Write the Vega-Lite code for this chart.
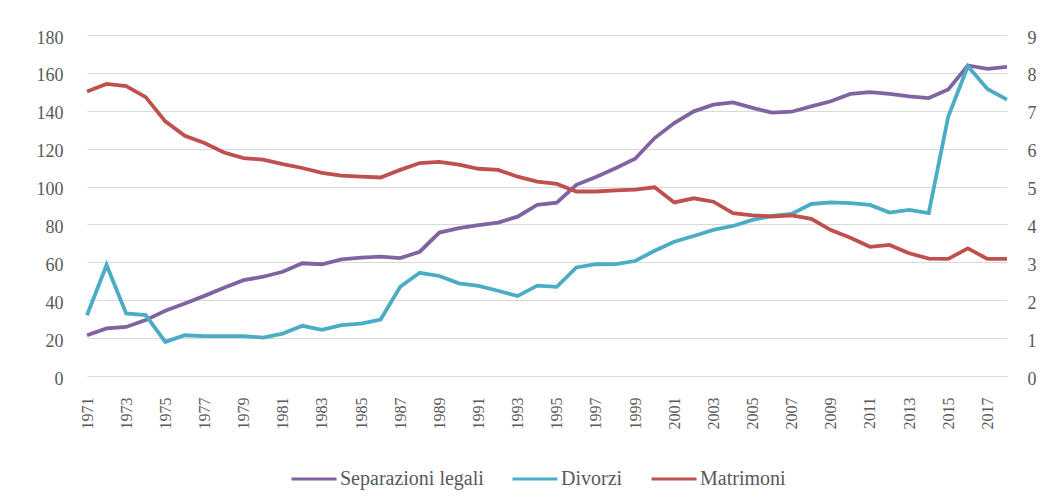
{
  "$schema": "https://vega.github.io/schema/vega-lite/v6.json",
  "width": 920,
  "height": 341,
  "autosize": {"type": "none"},
  "padding": {"left": 87, "top": 35, "right": 44, "bottom": 124},
  "background": "white",
  "config": {
    "view": {"stroke": null},
    "font": "Liberation Serif",
    "axis": {"labelFont": "Liberation Serif", "labelColor": "#595959", "domain": false, "ticks": false, "title": null, "labelFlush": false, "labelOverlap": false}
  },
  "data": {"values": [
    {"anno":1971,"serie":"Separazioni legali","valore":21.5},{"anno":1972,"serie":"Separazioni legali","valore":25.1},{"anno":1973,"serie":"Separazioni legali","valore":25.9},{"anno":1974,"serie":"Separazioni legali","valore":29.5},{"anno":1975,"serie":"Separazioni legali","valore":34.4},{"anno":1976,"serie":"Separazioni legali","valore":38.3},{"anno":1977,"serie":"Separazioni legali","valore":42.3},{"anno":1978,"serie":"Separazioni legali","valore":46.6},{"anno":1979,"serie":"Separazioni legali","valore":50.6},{"anno":1980,"serie":"Separazioni legali","valore":52.4},{"anno":1981,"serie":"Separazioni legali","valore":55.0},{"anno":1982,"serie":"Separazioni legali","valore":59.5},{"anno":1983,"serie":"Separazioni legali","valore":59.0},{"anno":1984,"serie":"Separazioni legali","valore":61.6},{"anno":1985,"serie":"Separazioni legali","valore":62.5},{"anno":1986,"serie":"Separazioni legali","valore":63.0},{"anno":1987,"serie":"Separazioni legali","valore":62.2},{"anno":1988,"serie":"Separazioni legali","valore":65.6},{"anno":1989,"serie":"Separazioni legali","valore":75.7},{"anno":1990,"serie":"Separazioni legali","valore":78.0},{"anno":1991,"serie":"Separazioni legali","valore":79.7},{"anno":1992,"serie":"Separazioni legali","valore":81.0},{"anno":1993,"serie":"Separazioni legali","valore":84.1},{"anno":1994,"serie":"Separazioni legali","valore":90.3},{"anno":1995,"serie":"Separazioni legali","valore":91.5},{"anno":1996,"serie":"Separazioni legali","valore":100.9},{"anno":1997,"serie":"Separazioni legali","valore":105.0},{"anno":1998,"serie":"Separazioni legali","valore":109.7},{"anno":1999,"serie":"Separazioni legali","valore":114.7},{"anno":2000,"serie":"Separazioni legali","valore":125.6},{"anno":2001,"serie":"Separazioni legali","valore":133.5},{"anno":2002,"serie":"Separazioni legali","valore":139.7},{"anno":2003,"serie":"Separazioni legali","valore":143.2},{"anno":2004,"serie":"Separazioni legali","valore":144.4},{"anno":2005,"serie":"Separazioni legali","valore":141.5},{"anno":2006,"serie":"Separazioni legali","valore":139.0},{"anno":2007,"serie":"Separazioni legali","valore":139.5},{"anno":2008,"serie":"Separazioni legali","valore":142.3},{"anno":2009,"serie":"Separazioni legali","valore":145.0},{"anno":2010,"serie":"Separazioni legali","valore":148.9},{"anno":2011,"serie":"Separazioni legali","valore":149.8},{"anno":2012,"serie":"Separazioni legali","valore":148.9},{"anno":2013,"serie":"Separazioni legali","valore":147.6},{"anno":2014,"serie":"Separazioni legali","valore":146.7},{"anno":2015,"serie":"Separazioni legali","valore":151.2},{"anno":2016,"serie":"Separazioni legali","valore":163.9},{"anno":2017,"serie":"Separazioni legali","valore":162.1},{"anno":2018,"serie":"Separazioni legali","valore":163.2},
    {"anno":1971,"serie":"Divorzi","valore":32.1},{"anno":1972,"serie":"Divorzi","valore":58.6},{"anno":1973,"serie":"Divorzi","valore":33.0},{"anno":1974,"serie":"Divorzi","valore":32.1},{"anno":1975,"serie":"Divorzi","valore":18.0},{"anno":1976,"serie":"Divorzi","valore":21.5},{"anno":1977,"serie":"Divorzi","valore":21.0},{"anno":1978,"serie":"Divorzi","valore":21.0},{"anno":1979,"serie":"Divorzi","valore":21.0},{"anno":1980,"serie":"Divorzi","valore":20.3},{"anno":1981,"serie":"Divorzi","valore":22.4},{"anno":1982,"serie":"Divorzi","valore":26.5},{"anno":1983,"serie":"Divorzi","valore":24.4},{"anno":1984,"serie":"Divorzi","valore":26.8},{"anno":1985,"serie":"Divorzi","valore":27.7},{"anno":1986,"serie":"Divorzi","valore":29.8},{"anno":1987,"serie":"Divorzi","valore":47.1},{"anno":1988,"serie":"Divorzi","valore":54.5},{"anno":1989,"serie":"Divorzi","valore":52.8},{"anno":1990,"serie":"Divorzi","valore":48.9},{"anno":1991,"serie":"Divorzi","valore":47.6},{"anno":1992,"serie":"Divorzi","valore":45.0},{"anno":1993,"serie":"Divorzi","valore":42.2},{"anno":1994,"serie":"Divorzi","valore":47.7},{"anno":1995,"serie":"Divorzi","valore":47.1},{"anno":1996,"serie":"Divorzi","valore":57.3},{"anno":1997,"serie":"Divorzi","valore":59.0},{"anno":1998,"serie":"Divorzi","valore":59.1},{"anno":1999,"serie":"Divorzi","valore":60.7},{"anno":2000,"serie":"Divorzi","valore":66.1},{"anno":2001,"serie":"Divorzi","valore":70.9},{"anno":2002,"serie":"Divorzi","valore":73.9},{"anno":2003,"serie":"Divorzi","valore":77.1},{"anno":2004,"serie":"Divorzi","valore":79.2},{"anno":2005,"serie":"Divorzi","valore":82.4},{"anno":2006,"serie":"Divorzi","valore":84.5},{"anno":2007,"serie":"Divorzi","valore":85.6},{"anno":2008,"serie":"Divorzi","valore":90.8},{"anno":2009,"serie":"Divorzi","valore":91.7},{"anno":2010,"serie":"Divorzi","valore":91.2},{"anno":2011,"serie":"Divorzi","valore":90.3},{"anno":2012,"serie":"Divorzi","valore":86.3},{"anno":2013,"serie":"Divorzi","valore":87.7},{"anno":2014,"serie":"Divorzi","valore":86.0},{"anno":2015,"serie":"Divorzi","valore":137.0},{"anno":2016,"serie":"Divorzi","valore":163.5},{"anno":2017,"serie":"Divorzi","valore":151.5},{"anno":2018,"serie":"Divorzi","valore":145.9},
    {"anno":1971,"serie":"Matrimoni","valore":7.51},{"anno":1972,"serie":"Matrimoni","valore":7.71},{"anno":1973,"serie":"Matrimoni","valore":7.65},{"anno":1974,"serie":"Matrimoni","valore":7.36},{"anno":1975,"serie":"Matrimoni","valore":6.72},{"anno":1976,"serie":"Matrimoni","valore":6.34},{"anno":1977,"serie":"Matrimoni","valore":6.15},{"anno":1978,"serie":"Matrimoni","valore":5.90},{"anno":1979,"serie":"Matrimoni","valore":5.75},{"anno":1980,"serie":"Matrimoni","valore":5.71},{"anno":1981,"serie":"Matrimoni","valore":5.59},{"anno":1982,"serie":"Matrimoni","valore":5.49},{"anno":1983,"serie":"Matrimoni","valore":5.36},{"anno":1984,"serie":"Matrimoni","valore":5.29},{"anno":1985,"serie":"Matrimoni","valore":5.26},{"anno":1986,"serie":"Matrimoni","valore":5.24},{"anno":1987,"serie":"Matrimoni","valore":5.44},{"anno":1988,"serie":"Matrimoni","valore":5.62},{"anno":1989,"serie":"Matrimoni","valore":5.65},{"anno":1990,"serie":"Matrimoni","valore":5.58},{"anno":1991,"serie":"Matrimoni","valore":5.47},{"anno":1992,"serie":"Matrimoni","valore":5.44},{"anno":1993,"serie":"Matrimoni","valore":5.26},{"anno":1994,"serie":"Matrimoni","valore":5.13},{"anno":1995,"serie":"Matrimoni","valore":5.07},{"anno":1996,"serie":"Matrimoni","valore":4.87},{"anno":1997,"serie":"Matrimoni","valore":4.87},{"anno":1998,"serie":"Matrimoni","valore":4.90},{"anno":1999,"serie":"Matrimoni","valore":4.92},{"anno":2000,"serie":"Matrimoni","valore":4.98},{"anno":2001,"serie":"Matrimoni","valore":4.58},{"anno":2002,"serie":"Matrimoni","valore":4.69},{"anno":2003,"serie":"Matrimoni","valore":4.60},{"anno":2004,"serie":"Matrimoni","valore":4.30},{"anno":2005,"serie":"Matrimoni","valore":4.24},{"anno":2006,"serie":"Matrimoni","valore":4.21},{"anno":2007,"serie":"Matrimoni","valore":4.24},{"anno":2008,"serie":"Matrimoni","valore":4.15},{"anno":2009,"serie":"Matrimoni","valore":3.85},{"anno":2010,"serie":"Matrimoni","valore":3.65},{"anno":2011,"serie":"Matrimoni","valore":3.41},{"anno":2012,"serie":"Matrimoni","valore":3.46},{"anno":2013,"serie":"Matrimoni","valore":3.24},{"anno":2014,"serie":"Matrimoni","valore":3.10},{"anno":2015,"serie":"Matrimoni","valore":3.09},{"anno":2016,"serie":"Matrimoni","valore":3.37},{"anno":2017,"serie":"Matrimoni","valore":3.09},{"anno":2018,"serie":"Matrimoni","valore":3.09}
  ]},
  "encoding": {
    "x": {
      "field": "anno", "type": "quantitative",
      "scale": {"domain": [1971, 2018], "nice": false, "zero": false},
      "axis": {"values": [1971,1973,1975,1977,1979,1981,1983,1985,1987,1989,1991,1993,1995,1997,1999,2001,2003,2005,2007,2009,2011,2013,2015,2017], "format": "d", "labelAngle": -90, "grid": false, "labelPadding": 21, "labelFontSize": 16}
    },
    "color": {
      "field": "serie", "type": "nominal",
      "scale": {"domain": ["Separazioni legali", "Divorzi", "Matrimoni"], "range": ["#8064A2", "#4BACC6", "#C0504D"]},
      "legend": {"orient": "none", "legendX": 203, "legendY": 420, "direction": "horizontal", "title": null, "symbolType": "stroke", "symbolSize": 2025, "symbolStrokeWidth": 3, "labelFontSize": 20, "labelFont": "Liberation Serif", "labelColor": "#595959", "columnPadding": 22, "labelOffset": 2}
    }
  },
  "layer": [
    {
      "transform": [{"filter": "datum.serie !== 'Matrimoni'"}],
      "mark": {"type": "line", "strokeWidth": 3.8},
      "encoding": {
        "y": {"field": "valore", "type": "quantitative", "scale": {"domain": [0, 180], "nice": false},
          "axis": {"values": [0,20,40,60,80,100,120,140,160,180], "grid": true, "gridColor": "#d9d9d9", "gridWidth": 1, "labelPadding": 24, "labelFontSize": 18, "labelOffset": 3}}
      }
    },
    {
      "transform": [{"filter": "datum.serie === 'Matrimoni'"}],
      "mark": {"type": "line", "strokeWidth": 3.8},
      "encoding": {
        "y": {"field": "valore", "type": "quantitative", "scale": {"domain": [0, 9], "nice": false},
          "axis": {"orient": "right", "values": [0,1,2,3,4,5,6,7,8,9], "grid": false, "labelPadding": 20, "labelFontSize": 18, "labelOffset": 3}}
      }
    }
  ],
  "resolve": {"scale": {"y": "independent"}}
}
